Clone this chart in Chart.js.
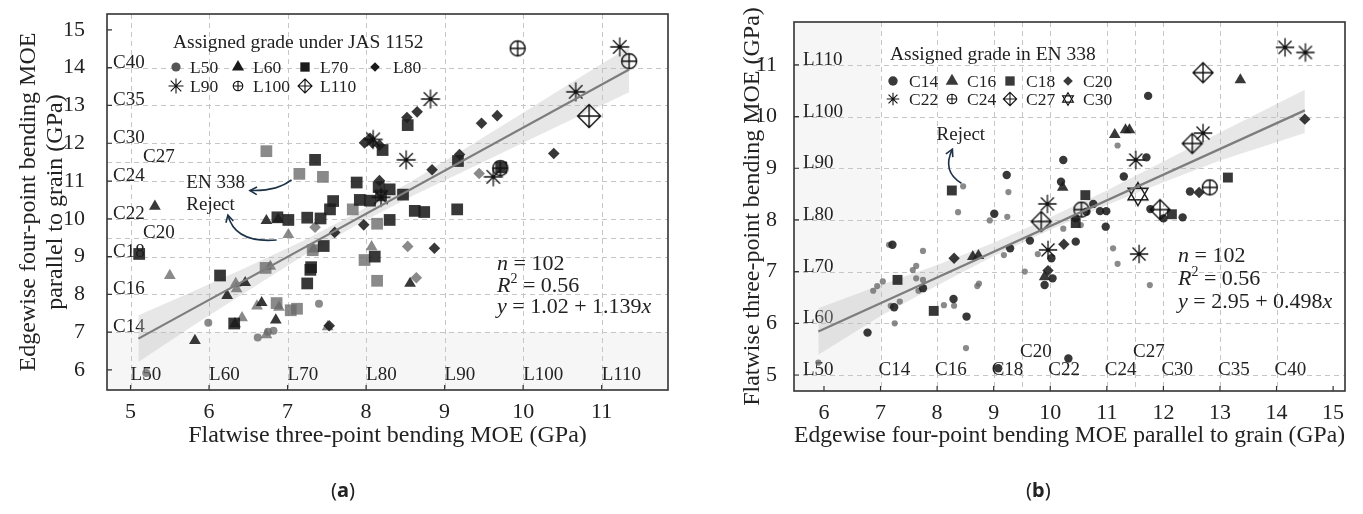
<!DOCTYPE html>
<html lang="en">
<head>
<meta charset="utf-8">
<title>Flatwise vs edgewise MOE</title>
<script src="https://cdn.jsdelivr.net/npm/chart.js@4.4.1/dist/chart.umd.min.js"></script>
<style>
  body { margin: 0; background: #fff; }
  #fig { position: relative; width: 1363px; height: 514px; overflow: hidden; }
  #fig canvas { position: absolute; top: 0; }
  .cap { position: absolute; top: 476px; font-family: 'Noto Sans', sans-serif; font-size: 20px; color: #222; }
</style>
</head>
<body>
<div id="fig">
  <canvas id="chartA" width="690" height="514" style="left:0"></canvas>
  <canvas id="chartB" width="673" height="514" style="left:690px"></canvas>
  <div class="cap" style="left:331px">(<b>a</b>)</div>
  <div class="cap" style="left:1026px">(<b>b</b>)</div>
</div>
<script>
// grade limits (GPa) used for the dashed lines
const enGrades = ['C14', 'C16', 'C18', 'C20', 'C22', 'C24', 'C27', 'C30', 'C35', 'C40'];
const enLimits = [7, 8, 9, 9.5, 10, 11, 11.5, 12, 13, 14];
const jasGrades = ['L50', 'L60', 'L70', 'L80', 'L90', 'L100', 'L110'];
const jasLimits = [5, 6, 7, 8, 9, 10, 11];

// ---- panel (a): flatwise (x) vs edgewise (y), grouped by JAS 1152 grade ----
const aXTicks = [5, 6, 7, 8, 9, 10, 11];
const aYTicks = [6, 7, 8, 9, 10, 11, 12, 13, 14, 15];

const aL50Light = [[5.20, 5.92], [5.99, 7.25], [6.62, 6.86], [6.75, 7.01], [6.82, 7.04], [7.40, 7.75]];
const aL60Dark = [[5.31, 10.33], [6.73, 9.95], [6.88, 9.99], [6.46, 8.31], [6.23, 7.97], [6.67, 7.78],
  [6.85, 7.32], [5.82, 6.78], [8.56, 8.29], [6.33, 7.22]];
const aL60Light = [[7.01, 9.58], [5.50, 8.50], [6.78, 8.74], [6.34, 8.29], [6.35, 8.15], [6.61, 7.69],
  [6.89, 7.66], [6.42, 7.38], [7.51, 7.14], [6.73, 6.93], [8.07, 9.26], [7.33, 9.20]];
const aL70Dark = [[8.53, 12.48], [8.21, 11.82], [7.35, 11.56], [7.88, 10.96], [8.16, 10.84], [8.30, 10.78],
  [7.92, 10.50], [8.05, 10.48], [8.19, 10.62], [8.47, 10.64], [8.62, 10.21], [8.74, 10.18], [9.16, 10.25],
  [9.17, 11.53], [9.72, 11.36], [7.58, 10.47], [7.54, 10.25], [7.25, 10.03], [7.42, 10.01], [7.01, 9.97],
  [6.87, 10.04], [8.30, 9.97], [7.46, 9.28], [8.11, 9.00], [7.29, 8.65], [7.30, 8.72], [7.25, 8.29],
  [5.11, 9.07], [6.14, 8.50], [6.32, 7.23]];
const aL70Light = [[6.73, 11.79], [7.15, 11.19], [7.45, 11.11], [7.83, 10.25], [8.14, 9.87], [7.32, 9.17],
  [7.98, 8.91], [8.14, 8.36], [6.72, 8.70], [6.86, 7.77], [7.04, 7.58], [7.12, 7.62]];
const aL80Dark = [[8.65, 12.83], [8.52, 12.68], [8.05, 12.13], [7.98, 12.01], [8.08, 12.01], [8.17, 11.95],
  [9.19, 11.70], [8.84, 11.30], [8.17, 11.01], [7.60, 9.64], [7.97, 9.84], [8.87, 9.22], [7.53, 7.17],
  [9.47, 12.53], [9.67, 12.73], [10.39, 11.73]];
const aL80Light = [[7.35, 9.78], [8.53, 9.27], [8.64, 8.44], [9.44, 11.20]];
const aL90 = [[8.82, 13.17], [8.09, 12.10], [8.51, 11.56], [8.19, 10.57], [9.62, 11.11], [10.67, 13.36], [11.23, 14.55]];
const aL100 = [[9.93, 14.51], [11.35, 14.17], [9.71, 11.34]];
const aL110 = [[10.84, 12.72]];

const aFitX = [5.10, 11.35];
const aFitY = [6.83, 13.95];
const aBandX = [5.1, 5.8, 6.5, 7.2, 7.9, 8.6, 9.3, 10.0, 10.7, 11.35];
const aBandHi = [7.45, 8.08, 8.74, 9.42, 10.18, 11.02, 11.91, 12.81, 13.71, 14.55];
const aBandLo = [6.21, 7.18, 8.10, 9.02, 9.86, 10.62, 11.31, 12.01, 12.71, 13.35];

// ---- panel (b): edgewise (x) vs flatwise (y), grouped by EN 338 grade ----
const bXTicks = [6, 7, 8, 9, 10, 11, 12, 13, 14, 15];
const bYTicks = [5, 6, 7, 8, 9, 10, 11];

const bC14Dark = [[7.21, 7.52], [7.75, 6.68], [7.24, 6.31], [6.77, 5.82], [8.29, 6.47], [8.52, 6.13],
  [9.23, 8.87], [9.01, 8.12], [10.23, 9.16], [10.19, 8.74], [10.76, 8.31], [10.64, 8.16], [10.88, 8.17],
  [10.99, 8.17], [10.45, 8.03], [10.98, 7.87], [11.30, 8.84], [11.70, 9.21], [11.77, 8.21], [10.45, 7.58],
  [10.02, 7.26], [9.64, 7.60], [9.29, 7.45], [10.04, 6.87], [9.90, 6.74], [11.73, 10.40], [12.00, 8.03],
  [12.34, 8.05], [12.47, 8.55], [10.32, 5.32], [9.08, 5.13]];
const bC14Light = [[7.15, 7.52], [7.75, 7.40], [6.87, 6.63], [6.94, 6.72], [7.04, 6.81], [7.57, 7.03],
  [7.63, 7.11], [7.63, 6.87], [7.75, 6.84], [7.67, 6.63], [7.18, 6.34], [7.34, 6.42], [7.25, 6.00],
  [5.90, 5.24], [8.30, 6.34], [8.12, 6.35], [8.51, 5.52], [8.71, 6.72], [8.74, 6.77], [8.46, 8.65],
  [8.37, 8.15], [9.26, 8.54], [8.93, 7.99], [9.24, 8.06], [10.54, 7.90], [10.23, 7.83], [9.78, 7.34],
  [9.18, 7.32], [9.55, 7.00], [11.11, 7.45], [11.19, 7.15], [11.76, 6.74], [11.19, 9.44]];
const bC16 = [[10.22, 8.63], [8.63, 7.29], [8.73, 7.31], [9.90, 6.90], [11.14, 9.65], [11.33, 9.74], [11.40, 9.74], [13.36, 10.71]];
const bC18 = [[8.26, 8.57], [7.30, 6.84], [7.94, 6.24], [10.62, 8.48], [10.45, 7.94], [12.15, 8.11], [13.14, 8.82]];
const bC20 = [[8.30, 7.26], [10.24, 7.53], [9.96, 7.02], [12.63, 8.53], [14.50, 9.95]];
const bC22 = [[9.95, 8.31], [9.96, 7.42], [11.51, 9.16], [11.57, 7.34], [12.70, 9.68], [14.15, 11.34], [14.51, 11.24]];
const bC24 = [[10.55, 8.20], [12.82, 8.63]];
const bC27 = [[9.84, 7.97], [11.94, 8.20], [12.51, 9.48], [12.70, 10.85]];
const bC30 = [[11.55, 8.50]];

const bFitX = [5.90, 14.50];
const bFitY = [5.84, 10.12];
const bBandX = [5.9, 7, 8, 9, 10, 11, 12, 13, 14.5];
const bBandHi = [6.29, 6.74, 7.13, 7.56, 8.05, 8.57, 9.13, 9.69, 10.52];
const bBandLo = [5.39, 6.14, 6.73, 7.30, 7.81, 8.29, 8.73, 9.15, 9.68];

const SERIF = "'Liberation Serif', 'Times New Roman', serif";
const DARK = 'rgba(28,28,28,0.88)';
const LIGHT = 'rgba(105,105,105,0.78)';
const INK = '#222';

Chart.defaults.font.family = SERIF;
Chart.defaults.color = INK;

// outline markers (asterisk, circle-plus, diamond-plus, star of David) as small canvases
function glyph(kind, r, lw) {
  const size = 2 * Math.ceil(r + lw + 1);
  const c = document.createElement('canvas');
  c.width = c.height = size;
  const g = c.getContext('2d');
  const m = size / 2;
  g.strokeStyle = '#111';
  g.fillStyle = '#111';
  g.lineWidth = lw;
  g.beginPath();
  if (kind === 'aster') {
    for (let i = 0; i < 4; i++) {
      const t = i * Math.PI / 4;
      g.moveTo(m - r * Math.cos(t), m - r * Math.sin(t));
      g.lineTo(m + r * Math.cos(t), m + r * Math.sin(t));
    }
  } else if (kind === 'oplus') {
    g.arc(m, m, r, 0, Math.PI * 2);
    g.moveTo(m - r, m); g.lineTo(m + r, m);
    g.moveTo(m, m - r); g.lineTo(m, m + r);
  } else if (kind === 'dplus') {
    g.moveTo(m, m - r); g.lineTo(m + r, m); g.lineTo(m, m + r); g.lineTo(m - r, m); g.closePath();
    g.moveTo(m - r, m); g.lineTo(m + r, m);
    g.moveTo(m, m - r); g.lineTo(m, m + r);
  } else if (kind === 'david') {
    for (const s of [-1, 1]) {
      g.moveTo(m, m + s * r);
      g.lineTo(m + r * 0.866, m - s * r / 2);
      g.lineTo(m - r * 0.866, m - s * r / 2);
      g.closePath();
    }
  }
  g.stroke();
  if (kind === 'aster') { g.beginPath(); g.arc(m, m, lw, 0, Math.PI * 2); g.fill(); }
  return c;
}

const pts = list => list.map(p => ({ x: p[0], y: p[1] }));
const zip = (xs, ys) => xs.map((v, i) => [v, ys[i]]);

function marks(list, style, r, color) {
  return { data: pts(list), pointStyle: style, pointRadius: r, pointBackgroundColor: color,
    pointBorderColor: color, pointBorderWidth: 0, order: 1 };
}
function band(xs, hi, lo) {
  return [
    { data: pts(zip(xs, hi)), showLine: true, pointRadius: 0, borderWidth: 0, fill: '+1',
      backgroundColor: 'rgba(185,185,185,0.35)', order: 3 },
    { data: pts(zip(xs, lo)), showLine: true, pointRadius: 0, borderWidth: 0, fill: false, order: 3 }
  ];
}
function fit(xs, ys) {
  return { data: pts(zip(xs, ys)), showLine: true, pointRadius: 0, borderColor: '#7d7d7d', borderWidth: 2.2, order: 0 };
}

// ---- drawing helpers for the plugin ----
function dashed(ctx, a, x, y, xs, ys) {
  ctx.strokeStyle = '#c6c6c6';
  ctx.lineWidth = 1;
  ctx.setLineDash([5, 4]);
  ctx.beginPath();
  xs.forEach(v => { const p = Math.round(x.getPixelForValue(v)) + 0.5; ctx.moveTo(p, a.top); ctx.lineTo(p, a.bottom); });
  ys.forEach(v => { const p = Math.round(y.getPixelForValue(v)) + 0.5; ctx.moveTo(a.left, p); ctx.lineTo(a.right, p); });
  ctx.stroke();
  ctx.setLineDash([]);
}

function frame(ctx, a, x, y, xt, yt) {
  ctx.strokeStyle = '#333';
  ctx.lineWidth = 1.2;
  ctx.beginPath();
  xt.forEach(v => { const p = x.getPixelForValue(v); ctx.moveTo(p, a.bottom); ctx.lineTo(p, a.bottom - 5); });
  yt.forEach(v => { const p = y.getPixelForValue(v); ctx.moveTo(a.left, p); ctx.lineTo(a.left + 5, p); });
  ctx.stroke();
  ctx.lineWidth = 1.6;
  ctx.strokeRect(a.left, a.top, a.width, a.height);
}

function mark(ctx, style, cx, cy, r, color) {
  if (typeof style !== 'string') {
    ctx.drawImage(style, Math.round(cx - style.width / 2), Math.round(cy - style.height / 2));
    return;
  }
  ctx.fillStyle = color;
  ctx.beginPath();
  if (style === 'circle') ctx.arc(cx, cy, r, 0, Math.PI * 2);
  else if (style === 'triangle') {
    ctx.moveTo(cx, cy - r); ctx.lineTo(cx + r * 0.866, cy + r / 2); ctx.lineTo(cx - r * 0.866, cy + r / 2); ctx.closePath();
  } else if (style === 'rect') {
    const s = r * Math.SQRT1_2; ctx.rect(cx - s, cy - s, 2 * s, 2 * s);
  } else if (style === 'rectRot') {
    ctx.moveTo(cx, cy - r); ctx.lineTo(cx + r, cy); ctx.lineTo(cx, cy + r); ctx.lineTo(cx - r, cy); ctx.closePath();
  }
  ctx.fill();
}

function legend(ctx, a, title, items, lay) {
  ctx.fillStyle = INK;
  ctx.textAlign = 'left';
  ctx.textBaseline = 'alphabetic';
  ctx.font = `19.5px ${SERIF}`;
  ctx.fillText(title, a.left + lay.title[0], a.top + lay.title[1]);
  ctx.font = `17.5px ${SERIF}`;
  ctx.textBaseline = 'middle';
  items.forEach((it, i) => {
    const row = a.top + lay.rows[Math.floor(i / 4)];
    mark(ctx, it.s, a.left + lay.cols[i % 4], row, it.r, it.c);
    ctx.fillStyle = INK;
    ctx.fillText(it.t, a.left + lay.text[i % 4], row + 1);
  });
}

function mathLine(ctx, x, y, parts) {
  ctx.textBaseline = 'alphabetic';
  ctx.textAlign = 'left';
  ctx.fillStyle = INK;
  parts.forEach(([t, italic, sup]) => {
    ctx.font = `${italic ? 'italic ' : ''}${sup ? 14 : 22}px ${SERIF}`;
    ctx.fillText(t, x, sup ? y - 9 : y);
    x += ctx.measureText(t).width;
  });
}

function stats(ctx, x, y, gap, eq) {
  mathLine(ctx, x, y, [['n', 1], [' = 102']]);
  mathLine(ctx, x, y + gap, [['R', 1], ['2', 0, 1], [' = 0.56']]);
  mathLine(ctx, x, y + 2 * gap, [['y', 1], [' = ' + eq], ['x', 1]]);
}

function arrow(ctx, x, y, p0, c, p1) {
  const P = p => [x.getPixelForValue(p[0]), y.getPixelForValue(p[1])];
  const [x0, y0] = P(p0), [cx, cy] = P(c), [x1, y1] = P(p1);
  ctx.strokeStyle = '#1d3247';
  ctx.lineWidth = 1.6;
  ctx.beginPath();
  ctx.moveTo(x0, y0);
  ctx.quadraticCurveTo(cx, cy, x1, y1);
  ctx.stroke();
  const ang = Math.atan2(y1 - cy, x1 - cx);
  ctx.beginPath();
  ctx.moveTo(x1 - 8 * Math.cos(ang - 0.5), y1 - 8 * Math.sin(ang - 0.5));
  ctx.lineTo(x1, y1);
  ctx.lineTo(x1 - 8 * Math.cos(ang + 0.5), y1 - 8 * Math.sin(ang + 0.5));
  ctx.stroke();
}

function note(ctx, text, px, py) {
  ctx.font = `19px ${SERIF}`;
  ctx.fillStyle = INK;
  ctx.textAlign = 'left';
  ctx.textBaseline = 'alphabetic';
  ctx.fillText(text, px, py);
}

function overlay(draw) {
  return {
    id: 'overlay',
    beforeDatasetsDraw(chart) {
      const { ctx, chartArea, scales } = chart;
      ctx.save();
      draw.under(ctx, chartArea, scales.x, scales.y);
      ctx.restore();
    },
    afterDatasetsDraw(chart) {
      const { ctx, chartArea, scales } = chart;
      ctx.save();
      draw.over(ctx, chartArea, scales.x, scales.y);
      ctx.restore();
    }
  };
}

function axis(c, dir) {
  return {
    type: 'linear', min: c.min, max: c.max,
    afterBuildTicks: s => { s.ticks = c.ticks.map(v => ({ value: v })); },
    afterFit: s => {
      // fixed axis box; drop the label overhang padding so the plot area stays where it is
      if (dir === 'x') { s.height = c.size; s.paddingLeft = 0; s.paddingRight = 0; }
      else { s.width = c.size; s.paddingTop = 0; s.paddingBottom = 0; }
    },
    grid: { display: false },
    border: { display: false },
    ticks: { font: { size: 22 }, color: INK, padding: c.tickPad, autoSkip: false, maxRotation: 0 },
    title: { display: true, text: c.title, color: INK, font: { size: 24, lineHeight: 1.12 }, padding: c.titlePad }
  };
}

function makeChart(id, cfg) {
  return new Chart(document.getElementById(id), {
    type: 'scatter',
    data: { datasets: cfg.datasets },
    options: {
      responsive: false,
      animation: false,
      events: [],
      layout: { padding: cfg.padding },
      plugins: { legend: { display: false }, tooltip: { enabled: false } },
      scales: { x: axis(cfg.x, 'x'), y: axis(cfg.y, 'y') }
    },
    plugins: [overlay(cfg.draw)]
  });
}

// ---------------- panel (a) ----------------
makeChart('chartA', {
  padding: { left: 0, top: 14, right: 22, bottom: 64 },
  x: { min: 4.70, max: 11.845, ticks: aXTicks, size: 60, tickPad: 1,
       title: 'Flatwise three-point bending MOE (GPa)', titlePad: { top: 0, bottom: 1 } },
  y: { min: 5.47, max: 15.42, ticks: aYTicks, size: 107, tickPad: 14,
       title: ['Edgewise four-point bending MOE', 'parallel to grain (GPa)'], titlePad: { top: 15, bottom: 0 } },
  datasets: [
    fit(aFitX, aFitY),
    ...band(aBandX, aBandHi, aBandLo),
    marks(aL110, glyph('dplus', 11.5, 1.4), 11.5, DARK),
    marks(aL100, glyph('oplus', 7.5, 1.4), 7.5, DARK),
    marks(aL90, glyph('aster', 9.5, 1.3), 9.5, DARK),
    marks(aL80Dark, 'rectRot', 5.8, DARK),
    marks(aL70Dark, 'rect', 8.3, DARK),
    marks(aL60Dark, 'triangle', 6.8, DARK),
    marks(aL80Light, 'rectRot', 5.8, LIGHT),
    marks(aL70Light, 'rect', 8.3, LIGHT),
    marks(aL60Light, 'triangle', 6.8, LIGHT),
    marks(aL50Light, 'circle', 4, LIGHT)
  ],
  draw: {
    under(ctx, a, x, y) {
      const p7 = y.getPixelForValue(7);
      ctx.fillStyle = '#f6f6f6';
      ctx.fillRect(a.left, p7, a.width, a.bottom - p7);
      dashed(ctx, a, x, y, jasLimits, enLimits);
      ctx.font = `19px ${SERIF}`;
      ctx.fillStyle = INK;
      ctx.textAlign = 'left';
      ctx.textBaseline = 'alphabetic';
      enLimits.forEach((v, i) => ctx.fillText(enGrades[i], a.left + (v % 1 ? 36 : 6), y.getPixelForValue(v)));
      jasLimits.forEach((v, i) => ctx.fillText(jasGrades[i], x.getPixelForValue(v), a.bottom - 10));
    },
    over(ctx, a, x, y) {
      frame(ctx, a, x, y, aXTicks, aYTicks);
      legend(ctx, a, 'Assigned grade under JAS 1152', [
        { s: 'circle', r: 4.6, c: '#555', t: 'L50' },
        { s: 'triangle', r: 7, c: '#1a1a1a', t: 'L60' },
        { s: 'rect', r: 6.6, c: '#1a1a1a', t: 'L70' },
        { s: 'rectRot', r: 4.8, c: '#1a1a1a', t: 'L80' },
        { s: glyph('aster', 7.5, 1.1), t: 'L90' },
        { s: glyph('oplus', 4.8, 1.1), t: 'L100' },
        { s: glyph('dplus', 7, 1.1), t: 'L110' }
      ], { title: [66, 34], cols: [69, 131, 198, 268], text: [83, 146, 213, 286], rows: [53, 72] });
      stats(ctx, a.left + 390, a.top + 256, 21.5, '1.02 + 1.139');
      note(ctx, 'EN 338', x.getPixelForValue(5.71), y.getPixelForValue(10.81));
      note(ctx, 'Reject', x.getPixelForValue(5.71), y.getPixelForValue(10.23));
      arrow(ctx, x, y, [7.05, 11.03], [6.86, 10.72], [6.52, 10.75]);
      arrow(ctx, x, y, [6.86, 9.44], [6.33, 9.35], [6.24, 10.10]);
    }
  }
});

// ---------------- panel (b) ----------------
makeChart('chartB', {
  padding: { left: 0, top: 22, right: 18, bottom: 64 },
  x: { min: 5.47, max: 15.21, ticks: bXTicks, size: 59, tickPad: 1,
       title: 'Edgewise four-point bending MOE parallel to grain (GPa)', titlePad: { top: 0, bottom: 1 } },
  y: { min: 4.69, max: 11.83, ticks: bYTicks, size: 104, tickPad: 9,
       title: 'Flatwise three-point bending MOE (GPa)', titlePad: { top: 49, bottom: 0 } },
  datasets: [
    fit(bFitX, bFitY),
    ...band(bBandX, bBandHi, bBandLo),
    marks(bC30, glyph('david', 11.5, 1.4), 11.5, DARK),
    marks(bC27, glyph('dplus', 10, 1.4), 10, DARK),
    marks(bC24, glyph('oplus', 7.5, 1.4), 7.5, DARK),
    marks(bC22, glyph('aster', 9.2, 1.3), 9.2, DARK),
    marks(bC20, 'rectRot', 5.7, DARK),
    marks(bC18, 'rect', 7, DARK),
    marks(bC16, 'triangle', 6.7, DARK),
    marks(bC14Dark, 'circle', 4.2, DARK),
    marks(bC14Light, 'circle', 3.1, LIGHT)
  ],
  draw: {
    under(ctx, a, x, y) {
      const p7 = x.getPixelForValue(7);
      ctx.fillStyle = '#f6f6f6';
      ctx.fillRect(a.left, a.top, p7 - a.left, a.height);
      dashed(ctx, a, x, y, enLimits, jasLimits);
      ctx.font = `19px ${SERIF}`;
      ctx.fillStyle = INK;
      ctx.textAlign = 'left';
      ctx.textBaseline = 'alphabetic';
      jasLimits.forEach((v, i) => ctx.fillText(jasGrades[i], a.left + 9, y.getPixelForValue(v)));
      enLimits.forEach((v, i) => ctx.fillText(enGrades[i], x.getPixelForValue(v) - 2, a.bottom - (v % 1 ? 34 : 16)));
    },
    over(ctx, a, x, y) {
      frame(ctx, a, x, y, bXTicks, bYTicks);
      legend(ctx, a, 'Assigned grade in EN 338', [
        { s: 'circle', r: 4.7, c: '#3a3a3a', t: 'C14' },
        { s: 'triangle', r: 7.3, c: '#3a3a3a', t: 'C16' },
        { s: 'rect', r: 6.6, c: '#3a3a3a', t: 'C18' },
        { s: 'rectRot', r: 4.8, c: '#3a3a3a', t: 'C20' },
        { s: glyph('aster', 6.3, 1.1), t: 'C22' },
        { s: glyph('oplus', 4.8, 1.1), t: 'C24' },
        { s: glyph('dplus', 6.7, 1.1), t: 'C27' },
        { s: glyph('david', 6.3, 1.1), t: 'C30' }
      ], { title: [96, 38], cols: [99, 158, 216, 274], text: [115, 173, 232, 289], rows: [59, 77] });
      stats(ctx, a.left + 384, a.top + 240, 23, '2.95 + 0.498');
      note(ctx, 'Reject', x.getPixelForValue(7.99), y.getPixelForValue(9.55));
      arrow(ctx, x, y, [8.43, 8.71], [8.08, 8.94], [8.27, 9.37]);
    }
  }
});
</script>
</body>
</html>
